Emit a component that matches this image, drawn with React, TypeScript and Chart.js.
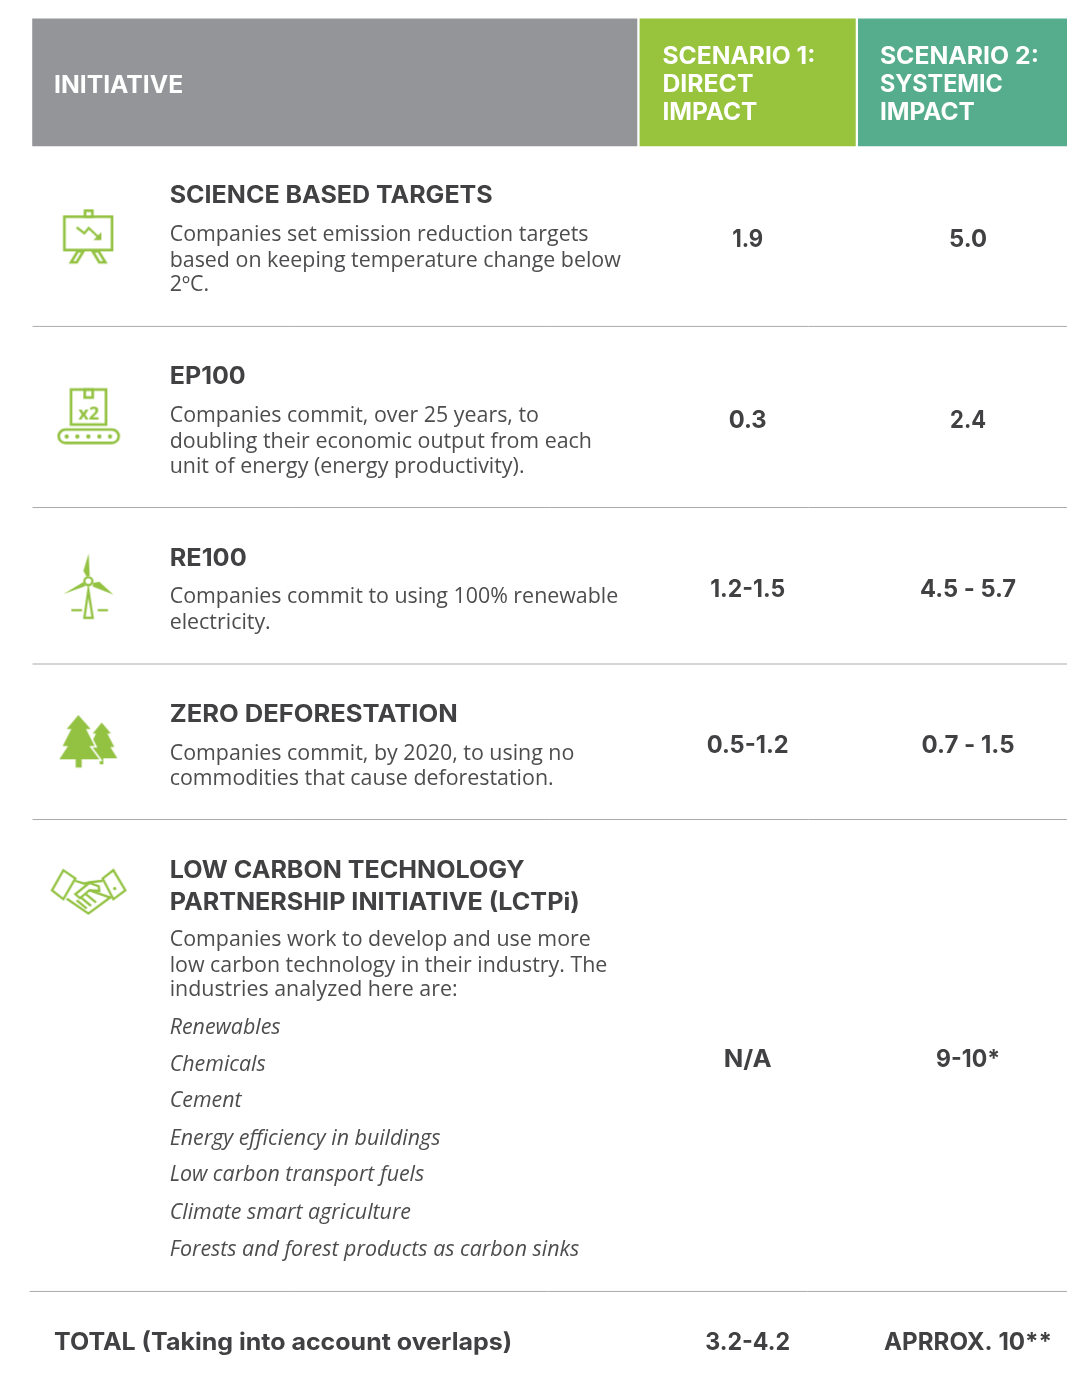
import React, { useEffect, useRef } from "react";
import { Chart, registerables } from "chart.js";

Chart.register(...registerables);

const headerInitiative = "INITIATIVE";
const headerScenario1 = ["SCENARIO 1:", "DIRECT", "IMPACT"];
const headerScenario2 = ["SCENARIO 2:", "SYSTEMIC", "IMPACT"];
const titles = [
  ["SCIENCE BASED TARGETS"],
  ["EP100"],
  ["RE100"],
  ["ZERO DEFORESTATION"],
  ["LOW CARBON TECHNOLOGY", "PARTNERSHIP INITIATIVE (LCTPi)"],
];
const descriptions = [
  ["Companies set emission reduction targets", "based on keeping temperature change below", "2ºC."],
  ["Companies commit, over 25 years, to", "doubling their economic output from each", "unit of energy (energy productivity)."],
  ["Companies commit to using 100% renewable", "electricity."],
  ["Companies commit, by 2020, to using no", "commodities that cause deforestation."],
  ["Companies work to develop and use more", "low carbon technology in their industry. The", "industries analyzed here are:"],
];
const lctpiIndustries = [
  "Renewables",
  "Chemicals",
  "Cement",
  "Energy efficiency in buildings",
  "Low carbon transport fuels",
  "Climate smart agriculture",
  "Forests and forest products as carbon sinks",
];
const scenario1Values = ["1.9", "0.3", "1.2-1.5", "0.5-1.2", "N/A", "3.2-4.2"];
const scenario2Values = ["5.0", "2.4", "4.5 - 5.7", "0.7 - 1.5", "9-10*", "APRROX. 10**"];
const totalLabel = "TOTAL (Taking into account overlaps)";

// layout, in page pixels (the two hidden linear axes run 1:1 with the page)
const W = 1078;
const H = 1392;
const GRAY = "#939598";
const GREEN = "#98c33d";
const TEAL = "#55ad8d";
const ICON = "#93c242";
const INK = "#414042";
const BODY = "#4d4d4f";
const RULE = "#a9abae";
const HEAD_FONT = "700 24px Inter";
const VALUE_FONT = "700 24px Inter";
const BODY_FONT = "400 21.4px 'Open Sans'";
const ITALIC_FONT = "italic 400 21.4px 'Open Sans'";
const titleX = 162;
const col1 = 752;
const col2 = 977;
const ruleYs = [320, 504, 663, 821];
const valueYs = [240, 424, 595, 754, 1073, 1360];
const titleYs = [[195], [379], [564], [722], [881, 913]];
const descYs = [[234, 260, 285], [418, 444, 469], [602, 628], [761, 786], [950, 976, 1001]];
const italicYs = [1039, 1077, 1114, 1152, 1189, 1227, 1265];
const iconCentres = [[80, 230], [80, 410], [80, 585], [80, 740], [80, 895]];

const fit: Record<string, number> = {
  INITIATIVE: 129,
  "SCENARIO 1:": 153,
  DIRECT: 91,
  IMPACT: 95,
  "SCENARIO 2:": 159,
  SYSTEMIC: 123,
  "SCIENCE BASED TARGETS": 323,
  EP100: 76,
  RE100: 77,
  "ZERO DEFORESTATION": 288,
  "LOW CARBON TECHNOLOGY": 355,
  "PARTNERSHIP INITIATIVE (LCTPi)": 410,
  [totalLabel]: 458,
  "1.9": 31,
  "5.0": 38,
  "0.3": 38,
  "2.4": 36,
  "1.2-1.5": 75,
  "4.5 - 5.7": 96,
  "0.5-1.2": 82,
  "0.7 - 1.5": 93,
  "N/A": 48,
  "9-10*": 64,
  "3.2-4.2": 85,
  "APRROX. 10**": 168,
};

function makeIcon(w: number, h: number, paint: (c: CanvasRenderingContext2D) => void) {
  const cv = document.createElement("canvas");
  cv.width = w;
  cv.height = h;
  const c = cv.getContext("2d")!;
  c.scale(1 / 3, 1 / 3);
  c.strokeStyle = ICON;
  c.fillStyle = ICON;
  c.lineWidth = 8;
  c.lineJoin = "miter";
  paint(c);
  return cv;
}
function poly(c: CanvasRenderingContext2D, pts: number[][], close = true) {
  c.beginPath();
  pts.forEach((p, i) => (i ? c.lineTo(p[0], p[1]) : c.moveTo(p[0], p[1])));
  if (close) c.closePath();
}

function buildIcons() {
  const board = makeIcon(100, 80, (c) => {
    c.strokeRect(75, 58, 143, 100);
    c.strokeRect(137, 40, 22, 18);
    poly(c, [[115, 162], [132, 162], [112, 195], [95, 195]]);
    c.stroke();
    poly(c, [[160, 162], [178, 162], [198, 195], [180, 195]]);
    c.stroke();
    c.lineWidth = 7;
    poly(c, [[112, 90], [135, 108], [148, 92], [178, 120]], false);
    c.stroke();
    poly(c, [[186, 104], [186, 128], [162, 128]]);
    c.fill();
  });
  const belt = makeIcon(100, 80, (c) => {
    c.strokeRect(95, 45, 105, 105);
    c.strokeRect(136, 45, 24, 24);
    c.font = "700 54px 'Open Sans'";
    c.textAlign = "center";
    c.fillText("x2", 148, 135);
    c.beginPath();
    c.roundRect(58, 165, 180, 40, 20);
    c.stroke();
    [82, 114, 147, 180, 212].forEach((x) => {
      c.beginPath();
      c.arc(x, 186, 6.5, 0, Math.PI * 2);
      c.fill();
    });
  });
  const turbine = makeIcon(100, 80, (c) => {
    poly(c, [[148, 20], [132, 72], [142, 90], [151, 86]]);
    c.fill();
    poly(c, [[72, 142], [132, 106], [138, 118]]);
    c.fill();
    poly(c, [[222, 143], [180, 105], [161, 108], [160, 119]]);
    c.fill();
    c.lineWidth = 7;
    c.beginPath();
    c.arc(147, 103, 12, 0, Math.PI * 2);
    c.stroke();
    poly(c, [[147, 130], [135, 213], [160, 213]]);
    c.stroke();
    c.beginPath();
    c.moveTo(96, 190);
    c.lineTo(128, 190);
    c.moveTo(175, 190);
    c.lineTo(206, 190);
    c.stroke();
  });
  const trees = makeIcon(100, 70, (c) => {
    poly(c, [[187, 55], [215, 88], [204, 88], [225, 128], [213, 128], [234, 162], [192, 162], [192, 180], [181, 180], [181, 162], [140, 162], [161, 128], [150, 128], [170, 88], [160, 88]]);
    c.fill();
    const big = [[117, 32], [154, 74], [140, 74], [166, 125], [150, 125], [180, 165], [127, 165], [127, 190], [109, 190], [109, 165], [60, 165], [86, 125], [70, 125], [96, 74], [82, 74]];
    c.strokeStyle = "#ffffff";
    c.lineWidth = 10;
    poly(c, big);
    c.stroke();
    poly(c, big);
    c.fill();
  });
  const hands = makeIcon(100, 70, (c) => {
    c.lineWidth = 7;
    poly(c, [[72, 40], [108, 65], [72, 127], [38, 100]]);
    c.stroke();
    poly(c, [[190, 65], [222, 40], [258, 100], [222, 127]]);
    c.stroke();
    c.beginPath();
    c.arc(226, 95, 5, 0, Math.PI * 2);
    c.fill();
    poly(c, [[108, 72], [135, 80], [150, 76], [190, 72]], false);
    c.stroke();
    poly(c, [[82, 125], [147, 170], [215, 120]], false);
    c.stroke();
    poly(c, [[150, 78], [108, 112], [122, 124], [150, 100], [180, 102], [178, 88], [150, 78]], false);
    c.stroke();
    poly(c, [[150, 100], [212, 122]], false);
    c.stroke();
    [[112, 130, 142, 155], [125, 122, 155, 147], [140, 112, 170, 137]].forEach((l) => {
      c.beginPath();
      c.moveTo(l[0], l[1]);
      c.lineTo(l[2], l[3]);
      c.stroke();
    });
  });
  return [board, belt, turbine, trees, hands];
}

const tablePlugin = {
  id: "tableText",
  afterDatasetsDraw(chart: any) {
    const ctx: CanvasRenderingContext2D = chart.ctx;
    const { x, y } = chart.scales;
    const put = (s: string, px: number, py: number, font: string, color: string, align: "left" | "center" = "left") => {
      ctx.save();
      ctx.font = font;
      ctx.fillStyle = color;
      ctx.textBaseline = "alphabetic";
      ctx.textAlign = "left";
      const natural = ctx.measureText(s).width;
      const target = fit[s] ?? natural;
      const sx = target / natural;
      const X = x.getPixelForValue(px) - (align === "center" ? target / 2 : 0);
      ctx.translate(X, y.getPixelForValue(py));
      ctx.scale(sx, 1);
      ctx.fillText(s, 0, 0);
      ctx.restore();
    };
    put(headerInitiative, 44, 83, HEAD_FONT, "#ffffff");
    headerScenario1.forEach((s, i) => put(s, 665, [54, 82, 111][i], HEAD_FONT, "#ffffff"));
    headerScenario2.forEach((s, i) => put(s, 887, [54, 82, 111][i], HEAD_FONT, "#ffffff"));
    titles.forEach((row, r) => row.forEach((s, i) => put(s, titleX, titleYs[r][i], HEAD_FONT, INK)));
    descriptions.forEach((row, r) => row.forEach((s, i) => put(s, titleX, descYs[r][i], BODY_FONT, BODY)));
    lctpiIndustries.forEach((s, i) => put(s, titleX, italicYs[i], ITALIC_FONT, BODY));
    put(totalLabel, 44, 1360, HEAD_FONT, INK);
    chart.data.datasets.forEach((ds: any) => {
      if (!ds.cellText) return;
      ds.cellText.forEach((s: string, i: number) => put(s, ds.data[i].x, ds.data[i].y, VALUE_FONT, INK, "center"));
    });
  },
};

export default function App() {
  const ref = useRef<HTMLCanvasElement>(null);
  useEffect(() => {
    document.body.style.margin = "0";
    document.body.style.background = "#ffffff";
    const icons = buildIcons();
    const bar = (a: number, b: number, color: string) => ({
      type: "bar",
      indexAxis: "y",
      data: [{ x: [a, b], y: 72.5 }],
      backgroundColor: color,
      barThickness: 127,
      grouped: false,
      order: 3,
    });
    const rule = (a: number, b: number, yy: number) => ({
      type: "scatter",
      showLine: true,
      data: [{ x: a, y: yy }, { x: b, y: yy }],
      borderColor: RULE,
      borderWidth: 1,
      pointRadius: 0,
      order: 2,
    });
    const chart = new Chart(ref.current!, {
      type: "scatter",
      plugins: [tablePlugin],
      data: {
        datasets: [
          bar(22, 639, GRAY),
          bar(642, 862, GREEN),
          bar(865, 1078, TEAL),
          ...ruleYs.map((yy) => rule(22, 1078, yy + 0.5)),
          rule(19, 1078, 1301),
          {
            type: "scatter",
            data: iconCentres.map((p) => ({ x: p[0], y: p[1] })),
            pointStyle: icons,
            pointRadius: 10,
            order: 1,
          },
          {
            type: "scatter",
            data: valueYs.map((yy) => ({ x: col1, y: yy })),
            pointRadius: 0,
            cellText: scenario1Values,
          },
          {
            type: "scatter",
            data: valueYs.map((yy) => ({ x: col2, y: yy })),
            pointRadius: 0,
            cellText: scenario2Values,
          },
        ] as any,
      },
      options: {
        animation: false,
        responsive: false,
        layout: { padding: 0 },
        plugins: { legend: { display: false }, tooltip: { enabled: false }, title: { display: false } },
        scales: {
          x: { type: "linear", min: 0, max: W, display: false, offset: false },
          y: { type: "linear", min: 0, max: H, reverse: true, display: false, offset: false },
        },
      } as any,
    });
    return () => chart.destroy();
  }, []);
  return (
    <div style={{ position: "absolute", left: 0, top: 0, width: W, height: H, background: "#fff" }}>
      <canvas ref={ref} width={W} height={H} style={{ display: "block" }} />
    </div>
  );
}
